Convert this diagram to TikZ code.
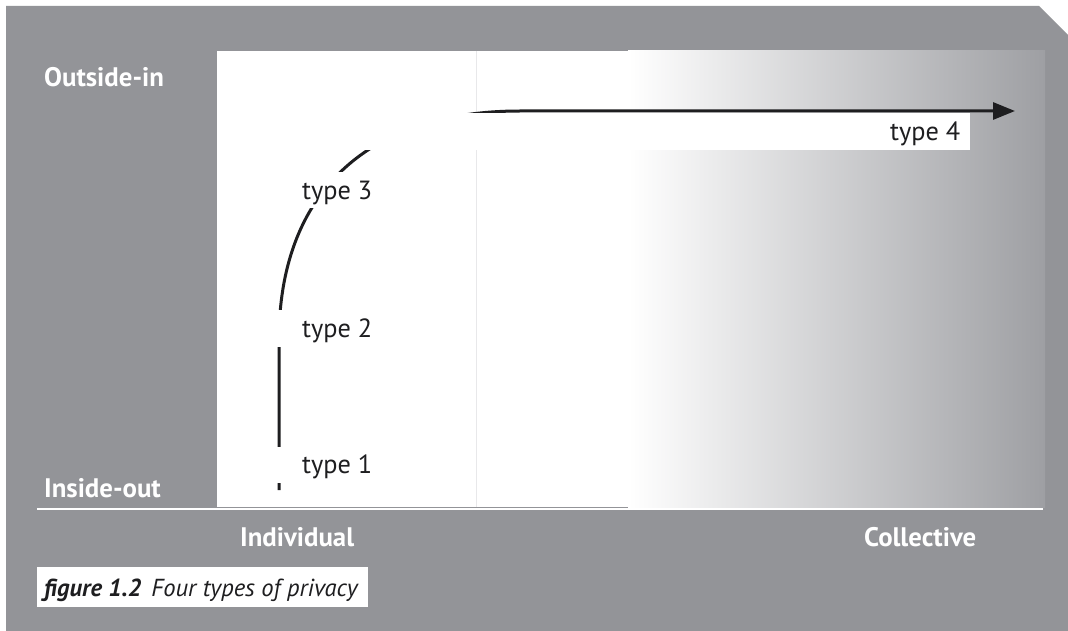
\documentclass[tikz,border=0pt]{standalone}
\usepackage{fontspec}
\setmainfont{PT Sans}
\usetikzlibrary{arrows.meta}
\definecolor{bggrey}{RGB}{147,148,152}
\definecolor{endgrey}{RGB}{158,159,163}
\definecolor{vline}{RGB}{232,232,234}
\definecolor{ink}{RGB}{30,30,32}
\tikzset{
  lbl/.style={inner sep=0pt, anchor=base west, text=ink, font=\fontsize{26.3}{26}\selectfont},
  axislbl/.style={inner sep=0pt, anchor=base west, text=white, font=\fontsize{26.8}{27}\selectfont\bfseries},
  mask/.style={fill=white, draw=none},
  curve/.style={line width=3pt, draw=ink},
}
\begin{document}
\begin{tikzpicture}[x=1pt,y=-1pt]
\useasboundingbox (0,0) rectangle (1068,631);
% background panel with cut corner
\fill[bggrey] (6,6) -- (1039,6) -- (1068,35) -- (1068,631) -- (6,631) -- cycle;
% plot area
\fill[white] (217,51) rectangle (1045,507);
\shade[left color=white, right color=endgrey] (628,51) rectangle (1045,507);
\draw[vline, line width=1pt] (476,51) -- (476,507);
% axis line
\draw[white, line width=2.2pt] (37,509) -- (1043,509);
% curve
\coordinate (c0) at (279,490);
\coordinate (c1) at (279,340);
\coordinate (c2) at (520,111);
\coordinate (c3) at (1015,111);
\draw[curve, -{Triangle[length=22pt,width=17pt]}] (c0) -- (c1) .. controls (279,195) and (365,111) .. (c2) -- (c3);
% label masks
\fill[mask] (270,447) rectangle (390,483);
\fill[mask] (270,310) rectangle (390,347);
\fill[mask] (295,172) rectangle (390,208);
\fill[mask] (360,113.5) rectangle (970,150);
% labels
\node[lbl] (t1) at (302,473) {type 1};
\node[lbl] (t2) at (302,337) {type 2};
\node[lbl] (t3) at (302,200) {type 3};
\node[lbl] (t4) at (890,141) {type 4};
\node[axislbl] (oi) at (44,87) {Outside-in};
\node[axislbl] (io) at (44,497) {Inside-out};
\node[axislbl] (ind) at (240,546) {Individual};
\node[axislbl] (col) at (864,546) {Collective};
% caption
\node[fill=white, inner sep=0pt, minimum width=331pt, minimum height=40pt, anchor=north west] (capbox) at (37,567) {};
\node[inner sep=0pt, anchor=base west, text=ink, font=\fontsize{24.6}{25}\selectfont] (cap) at (44,596) {\textbf{\textit{figure 1.2}}\hspace{10pt}\textit{Four types of privacy}};
\end{tikzpicture}
\end{document}
